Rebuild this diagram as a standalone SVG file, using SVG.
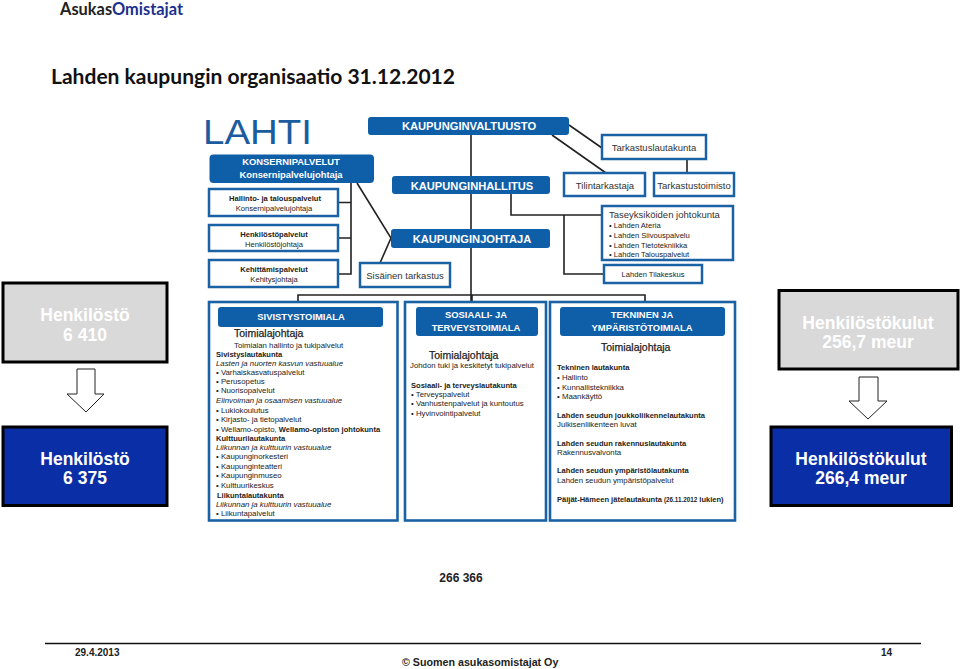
<svg xmlns="http://www.w3.org/2000/svg" width="960" height="669" viewBox="0 0 960 669">
<style>
text{font-family:"Liberation Sans",Arial,sans-serif;fill:#222}
.c{font-family:Lato,"Liberation Sans",sans-serif;font-weight:700}
.m{text-anchor:middle}
.hd{fill:#0f5ea8}
.hdt{fill:#fff;font-weight:700;text-anchor:middle;font-size:9.400px}
.bx{fill:#fff;stroke:#1a62a4;stroke-width:2.5}
.pn{fill:#fff;stroke:#1a62a4;stroke-width:2.6}
.b{font-weight:700;font-size:7.550px}
.i{font-style:italic}
.s7{font-size:7.600px}
.s8{font-size:7.800px}
.s9{font-size:9.500px;fill:#333}
.s7.b{font-size:7.600px}
.tj{font-size:10.500px;fill:#222;stroke:#222;stroke-width:.25}
.ln{fill:none;stroke:#222;stroke-width:1.6}
.gr{fill:#d9d9d9;stroke:#000;stroke-width:3}
.bl{fill:#0a2ea6;stroke:#000;stroke-width:3}
.st{font-size:17.500px;font-weight:700;text-anchor:middle;fill:#fff}
.ar{fill:#fff;stroke:#222;stroke-width:1}
.k{font-size:11.150px}
</style>
<rect width="960" height="669" fill="#fff"/>
<g id="header">
<text class="c" x="60" y="15" font-size="16.500" textLength="123" lengthAdjust="spacingAndGlyphs">Asukas<tspan fill="#1b2f8f">Omistajat</tspan></text>
<text class="c" x="51" y="84" font-size="20" style="fill:#111" textLength="404" lengthAdjust="spacingAndGlyphs">Lahden kaupungin organisaatio 31.12.2012</text>
</g>
<g id="connectors">
<path class="ln" d="M471 135V302M298 302V295H645V302M472 295V302"/>
<path class="ln" d="M351 183V274H338M338 202.500H351M338 238H351M357 183L391 238L380 263"/>
<path class="ln" d="M569 125L602 148M552 135L606 173M687 159V173"/>
<path class="ln" d="M511 194V215H602M564 215V274H604"/>
</g>
<g id="logo"><text x="203" y="144" font-size="35" textLength="109" lengthAdjust="spacingAndGlyphs" style="fill:#1a5c9e">LAHTI</text></g>
<g id="valtuusto"><rect class="hd" x="368" y="117" width="201" height="18" rx="3"/><text class="hdt" x="469" y="130" style="font-size:11.200px">KAUPUNGINVALTUUSTO</text></g>
<g id="hallitus"><rect class="hd" x="392" y="176" width="158" height="18" rx="3"/><text class="hdt k" x="472" y="190" style="font-size:11.150px">KAUPUNGINHALLITUS</text></g>
<g id="johtaja"><rect class="hd" x="391" y="229" width="159" height="19" rx="3"/><text class="hdt k" x="472" y="243" style="font-size:11.150px">KAUPUNGINJOHTAJA</text></g>
<g id="konserni"><rect class="hd" x="209.500" y="154.500" width="164.500" height="28.500" rx="4"/><text class="hdt" x="291" y="165">KONSERNIPALVELUT</text><text class="hdt" x="291" y="178">Konsernipalvelujohtaja</text></g>
<g id="hallinto"><rect class="bx" x="209" y="189" width="129" height="27"/><text class="s7 b m" x="275" y="201">Hallinto- ja talouspalvelut</text><text class="s7 m" x="274" y="211">Konsernipalvelujohtaja</text></g>
<g id="henkilosto"><rect class="bx" x="209" y="225" width="129" height="26"/><text class="s7 b m" x="274" y="237">Henkilöstöpalvelut</text><text class="s7 m" x="274" y="247">Henkilöstöjohtaja</text></g>
<g id="kehittamis"><rect class="bx" x="209" y="260" width="129" height="27"/><text class="s7 b m" x="274" y="272">Kehittämispalvelut</text><text class="s7 m" x="274" y="282">Kehitysjohtaja</text></g>
<g id="sisainen"><rect class="bx" x="360" y="263" width="90" height="24"/><text class="s9 m" x="405" y="279">Sisäinen tarkastus</text></g>
<g id="tarkastuslautakunta"><rect class="bx" x="602" y="135" width="104" height="24"/><text class="s9 m" x="654" y="151">Tarkastuslautakunta</text></g>
<g id="tilintarkastaja"><rect class="bx" x="564" y="173" width="81" height="23"/><text class="s9 m" x="605" y="189">Tilintarkastaja</text></g>
<g id="tarkastustoimisto"><rect class="bx" x="654" y="173" width="80" height="23"/><text class="s9 m" x="694" y="189">Tarkastustoimisto</text></g>
<g id="taseyksikot"><rect class="bx" x="602" y="206" width="131" height="54"/><text class="s9" x="609" y="218">Taseyksiköiden johtokunta</text><text class="s7" x="609" y="228">• Lahden Ateria</text><text class="s7" x="609" y="238">• Lahden Siivouspalvelu</text><text class="s7" x="609" y="247.500">• Lahden Tietotekniikka</text><text class="s7" x="609" y="257">• Lahden Talouspalvelut</text></g>
<g id="tilakeskus"><rect class="bx" x="604" y="265" width="98" height="18"/><text class="s7 m" x="653" y="277">Lahden Tilakeskus</text></g>
<g id="sivistys">
<rect class="pn" x="209" y="302" width="188.500" height="218.500"/>
<rect class="hd" x="218" y="307" width="165" height="20" rx="3"/><text class="hdt" x="301" y="320">SIVISTYSTOIMIALA</text>
<text class="tj" x="234" y="337">Toimialajohtaja</text>
<g class="s8">
<text x="234" y="347.500">Toimialan hallinto ja tukipalvelut</text>
<text class="b" x="216" y="356.500">Sivistyslautakunta</text>
<text class="i" x="216" y="366">Lasten ja nuorten  kasvun vastuualue</text>
<text x="216" y="375">• Varhaiskasvatuspalvelut</text>
<text x="216" y="384">• Perusopetus</text>
<text x="216" y="393">• Nuorisopalvelut</text>
<text class="i" x="216" y="403">Elinvoiman ja osaamisen vastuualue</text>
<text x="216" y="413">• Lukiokoulutus</text>
<text x="216" y="422">• Kirjasto- ja tietopalvelut</text>
<text x="216" y="431.500">• Wellamo-opisto, <tspan class="b">Wellamo-opiston johtokunta</tspan></text>
<text class="b" x="216" y="441">Kulttuurilautakunta</text>
<text class="i" x="216" y="450">Liikunnan ja kulttuurin vastuualue</text>
<text x="216" y="459">• Kaupunginorkesteri</text>
<text x="216" y="469">• Kaupunginteatteri</text>
<text x="216" y="478">• Kaupunginmuseo</text>
<text x="216" y="488">• Kulttuurikeskus</text>
<text class="b" x="217" y="497.500">Liikuntalautakunta</text>
<text class="i" x="216" y="507">Liikunnan ja kulttuurin vastuualue</text>
<text x="216" y="516">• Liikuntapalvelut</text>
</g>
</g>
<g id="sosiaali">
<rect class="pn" x="405" y="302" width="141" height="218.500"/>
<rect class="hd" x="416" y="307" width="122" height="29" rx="3"/><text class="hdt" x="476" y="318">SOSIAALI- JA</text><text class="hdt" x="476" y="331">TERVEYSTOIMIALA</text>
<text class="tj" x="429" y="359">Toimialajohtaja</text>
<g class="s8">
<text x="410" y="368">Johdon tuki ja keskitetyt tukipalvelut</text>
<text class="b" x="411" y="388">Sosiaali- ja terveyslautakunta</text>
<text x="411" y="397">• Terveyspalvelut</text>
<text x="411" y="406">• Vanhustenpalvelut ja kuntoutus</text>
<text x="411" y="416">• Hyvinvointipalvelut</text>
</g>
</g>
<g id="tekninen">
<rect class="pn" x="550" y="302" width="185" height="218.500"/>
<rect class="hd" x="560" y="307" width="165" height="29" rx="3"/><text class="hdt" x="642" y="318">TEKNINEN JA</text><text class="hdt" x="642" y="331">YMPÄRISTÖTOIMIALA</text>
<text class="tj" x="601" y="351">Toimialajohtaja</text>
<g class="s8">
<text class="b" x="557" y="370">Tekninen lautakunta</text>
<text x="557" y="380">• Hallinto</text>
<text x="557" y="390">• Kunnallistekniikka</text>
<text x="557" y="399">• Maankäyttö</text>
<text class="b" x="557" y="417.500">Lahden seudun joukkoliikennelautakunta</text>
<text x="557" y="427">Julkisenliikenteen luvat</text>
<text class="b" x="557" y="446">Lahden seudun rakennuslautakunta</text>
<text x="557" y="455">Rakennusvalvonta</text>
<text class="b" x="557" y="473">Lahden seudun ympäristölautakunta</text>
<text x="557" y="483">Lahden seudun ympäristöpalvelut</text>
<text class="b" x="557" y="502">Päijät-Hämeen jätelautakunta  <tspan font-size="6.500" style="font-size:6.300px">(26.11.2012</tspan> lukien)</text>
</g>
</g>
<g id="henkilosto-2011"><rect class="gr" x="3" y="283" width="164" height="79"/><text class="st" x="85" y="321">Henkilöstö</text><text class="st" x="85" y="341">6 410</text></g>
<g id="henkilosto-2012"><rect class="bl" x="3" y="427" width="164" height="78.500"/><text class="st" x="85" y="465">Henkilöstö</text><text class="st" x="85" y="484">6 375</text></g>
<g id="kulut-2011"><rect class="gr" x="779" y="290.500" width="179" height="78.500"/><text class="st" x="868" y="329">Henkilöstökulut</text><text class="st" x="868" y="348">256,7 meur</text></g>
<g id="kulut-2012"><rect class="bl" x="771" y="427" width="180.500" height="78.500"/><text class="st" x="861" y="465">Henkilöstökulut</text><text class="st" x="861" y="484">266,4 meur</text></g>
<g id="arrows">
<polygon class="ar" points="77,369 95,369 95,394 104,394 86,412 67,394 77,394"/>
<polygon class="ar" points="859,377 878,377 878,401 887,401 868,419 849,401 859,401"/>
</g>
<g id="footer">
<text x="461" y="582" font-size="12" font-weight="700" text-anchor="middle">266 366</text>
<line x1="45" y1="643.500" x2="921" y2="643.500" stroke="#111" stroke-width="1.500"/>
<text x="75" y="656" font-size="10" font-weight="700">29.4.2013</text>
<text x="881" y="656" font-size="10" font-weight="700">14</text>
<text x="402" y="666" font-size="10.700" font-weight="700">© Suomen asukasomistajat Oy</text>
</g>
</svg>
